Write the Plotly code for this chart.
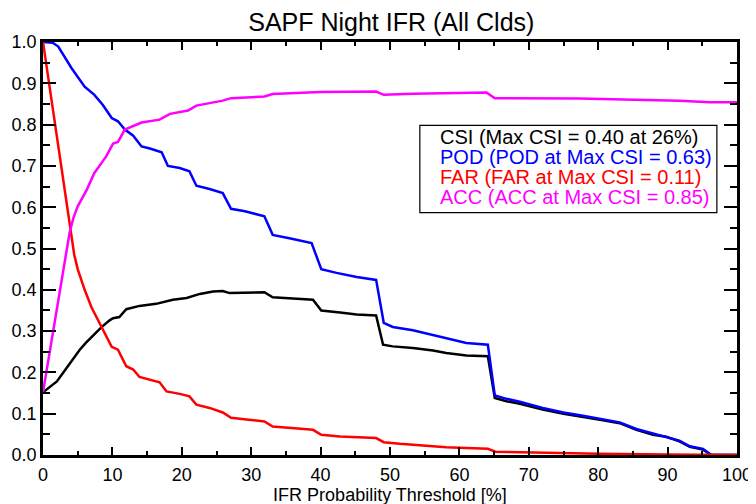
import plotly.graph_objects as go

# ---- data ----
csi_x = [0, 1.0, 2.0, 2.9, 4.3, 5.3, 6.2, 7.2, 8.4, 9.6, 10.1, 11.0, 12.0, 13.9, 16.3, 18.7, 20.7,
         22.6, 24.5, 25.9, 26.9, 31.9, 33.1, 38.9, 40.1, 42.8, 45.2, 48.0, 49.0, 50.4, 53.3, 56.2,
         58.1, 61.0, 64.1, 65.1, 66.8, 68.7, 72.0, 75.0, 77.8, 80.7, 83.1, 85.5, 87.9, 89.8, 91.7,
         93.2, 95.1, 96.3, 100]
csi_y = [0.152, 0.166, 0.178, 0.199, 0.231, 0.255, 0.272, 0.289, 0.309, 0.326, 0.331, 0.334, 0.353,
         0.361, 0.366, 0.376, 0.380, 0.390, 0.396, 0.397, 0.392, 0.394, 0.382, 0.376, 0.350, 0.345,
         0.340, 0.338, 0.267, 0.263, 0.259, 0.253, 0.247, 0.241, 0.239, 0.138, 0.130, 0.124, 0.110,
         0.100, 0.093, 0.084, 0.077, 0.061, 0.049, 0.044, 0.033, 0.020, 0.013, 0.0, 0.0]

pod_x = [0, 1.4, 2.2, 3.1, 4.1, 6.0, 7.4, 8.6, 9.9, 10.8, 11.8, 13.0, 14.2, 15.4, 17.1, 18.0, 19.7,
         21.1, 22.1, 24.0, 25.9, 27.1, 29.1, 31.9, 33.1, 35.5, 38.7, 40.1, 42.3, 45.2, 48.0, 49.1,
         50.4, 53.3, 56.0, 58.1, 61.0, 64.1, 65.1, 66.8, 68.7, 72.0, 75.0, 77.8, 80.7, 83.1, 85.5,
         87.9, 89.8, 91.7, 93.2, 95.1, 96.3, 100]
pod_y = [1.0, 0.998, 0.989, 0.965, 0.937, 0.892, 0.872, 0.848, 0.816, 0.808, 0.788, 0.773, 0.747,
         0.742, 0.733, 0.700, 0.695, 0.687, 0.652, 0.644, 0.634, 0.596, 0.590, 0.578, 0.533, 0.525,
         0.513, 0.450, 0.441, 0.431, 0.424, 0.320, 0.310, 0.302, 0.291, 0.281, 0.271, 0.267, 0.144,
         0.136, 0.129, 0.114, 0.103, 0.095, 0.087, 0.079, 0.063, 0.052, 0.045, 0.035, 0.021, 0.015,
         0.0, 0.0]

far_x = [0, 3.9, 4.5, 5.0, 6.0, 7.0, 8.0, 9.0, 9.9, 10.8, 12.0, 13.0, 13.9, 16.8, 17.8, 19.7, 21.1,
         22.1, 24.0, 25.9, 27.1, 29.3, 31.9, 33.1, 38.9, 40.1, 42.8, 48.0, 49.1, 51.4, 54.3, 58.1,
         61.0, 64.1, 65.2, 72, 80, 90, 100]
far_y = [1.0, 0.545, 0.485, 0.45, 0.40, 0.357, 0.325, 0.293, 0.262, 0.255, 0.215, 0.207, 0.189,
         0.176, 0.154, 0.148, 0.142, 0.122, 0.114, 0.103, 0.090, 0.086, 0.081, 0.069, 0.061, 0.049,
         0.045, 0.041, 0.031, 0.027, 0.023, 0.019, 0.017, 0.015, 0.008, 0.005, 0.003, 0.001, 0.0]

acc_x = [0, 3.85, 4.4, 5.0, 6.3, 7.4, 8.6, 9.1, 10.1, 10.8, 11.8, 13.0, 14.2, 16.8, 18.3, 20.9, 22.1,
         24.0, 25.9, 27.1, 31.9, 33.1, 39.9, 48.0, 49.1, 53.3, 63.9, 65.1, 77.3, 91.7, 96.1, 100]
acc_y = [0.152, 0.54, 0.575, 0.602, 0.642, 0.683, 0.711, 0.723, 0.754, 0.758, 0.788, 0.796, 0.805,
         0.812, 0.826, 0.834, 0.846, 0.852, 0.858, 0.864, 0.868, 0.874, 0.879, 0.880, 0.872, 0.875,
         0.878, 0.864, 0.863, 0.858, 0.854, 0.854]

legend_texts = ["CSI (Max CSI = 0.40 at 26%)",
                "POD (POD at Max CSI = 0.63)",
                "FAR (FAR at Max CSI = 0.11)",
                "ACC (ACC at Max CSI = 0.85)"]
colors = ["black", "#0000ff", "#ff0000", "#ff00ff"]

FONT = "Liberation Sans, Arial, sans-serif"

fig = go.Figure()
series = [(csi_x, csi_y), (pod_x, pod_y), (far_x, far_y), (acc_x, acc_y)]
names = ["CSI", "POD", "FAR", "ACC"]
for (xs, ys), c, n in zip(series, colors, names):
    fig.add_trace(go.Scatter(x=xs, y=ys, mode="lines", name=n,
                             line=dict(color=c, width=2.5), showlegend=False, cliponaxis=True))

# legend box as text
fig.add_shape(type="rect", xref="paper", yref="paper", x0=0.543, x1=0.971, y0=0.587, y1=0.798,
              line=dict(color="black", width=1.2), fillcolor="white", layer="above")
ys_leg = [0.771, 0.722, 0.673, 0.624]
for t, c, yy in zip(legend_texts, colors, ys_leg):
    fig.add_annotation(text=t, xref="paper", yref="paper", x=0.569, y=yy, xanchor="left",
                       yanchor="middle", showarrow=False, font=dict(size=20, color=c, family=FONT))

axis_common = dict(showgrid=False, zeroline=False, showline=True, linecolor="black", linewidth=2.5,
                   mirror="allticks", ticks="inside", tickcolor="black", tickwidth=2,
                   tickfont=dict(size=18, color="black", family=FONT))

fig.update_xaxes(range=[0, 100], dtick=10, tick0=0, ticklen=8, ticklabelstandoff=2,
                 minor=dict(ticks="inside", dtick=5, ticklen=4, tickwidth=2, tickcolor="black"),
                 title=dict(text="IFR Probability Threshold [%]", font=dict(size=18, color="black", family=FONT),
                            standoff=0),
                 **axis_common)
fig.update_yaxes(range=[0, 1], dtick=0.1, tick0=0, tickformat=".1f", ticklen=13,
                 minor=dict(ticks="inside", dtick=0.05, ticklen=7, tickwidth=2, tickcolor="black"),
                 **axis_common)

# page body adds an 8px offset, so margins are compensated
fig.update_layout(
    width=756, height=504,
    margin=dict(l=35, r=27, t=34, b=57, autoexpand=False),
    paper_bgcolor="white", plot_bgcolor="white",
    title=dict(text="SAPF Night IFR (All Clds)", x=0.507, xanchor="center", y=0.9712, yanchor="middle",
               font=dict(size=25, color="black", family=FONT)),
    font=dict(family=FONT),
)

fig.write_html("out.html")
